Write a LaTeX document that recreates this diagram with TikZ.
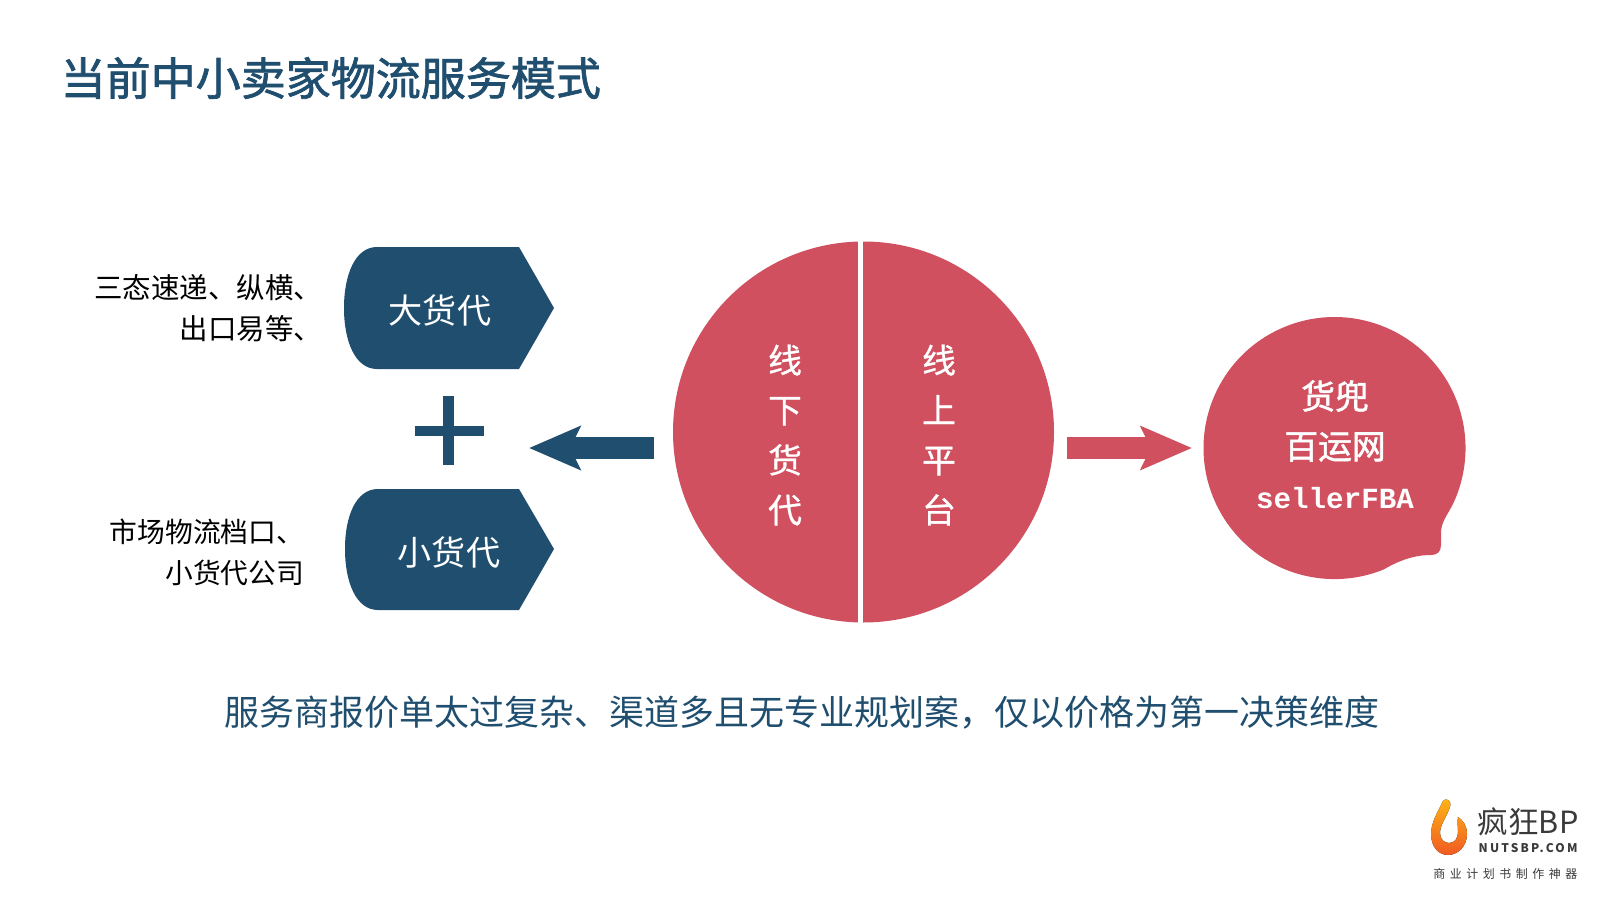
\documentclass[tikz,border=0pt]{standalone}
\usepackage{fontspec}
\usepackage{xcolor}
\usetikzlibrary{arrows.meta}
\setmainfont{Noto Sans CJK SC}
\newfontfamily\latinmono{Liberation Mono}
\newfontfamily\heavycjk[FakeBold=1.6]{Noto Sans CJK SC}
\newfontfamily\firmcjk[FakeBold=0.9]{Noto Sans CJK SC}
\definecolor{navy}{HTML}{1F4E6F}
\definecolor{rosered}{HTML}{D0505F}
\definecolor{logogray}{HTML}{3A3A3A}
\definecolor{flametop}{HTML}{FDB515}
\definecolor{flamebottom}{HTML}{F15A22}
\tikzset{
  bluefill/.style={fill=navy},
  redfill/.style={fill=rosered},
  whitelabel/.style={text=white, inner sep=0pt, align=center},
  sidelabel/.style={text=black, inner sep=0pt, align=right, anchor=east, font=\fontsize{8.1}{11.6}\selectfont},
  blockarrow/.style={line width=6.5pt, -{Stealth[length=14.5pt, width=12.2pt, inset=2.8pt]}}
}
\begin{document}
\begin{tikzpicture}[x=0.01cm, y=-0.01cm]
  \useasboundingbox[fill=white] (0,0) rectangle (1600,900);
  \node[text=navy, anchor=west, inner sep=0pt, font=\heavycjk\fontsize{12.8}{15}\selectfont] (title) at (60,78) {当前中小卖家物流服务模式};
  % left boxes
  \fill[bluefill] (377,247) -- (519,247) -- (554,308) -- (519,369) -- (377,369) .. controls (355,369) and (344,341) .. (344,308) .. controls (344,275) and (355,247) .. (377,247) -- cycle;
  \fill[bluefill] (378,489) -- (519,489) -- (554,549) -- (519,610) -- (378,610) .. controls (356,610) and (345,582) .. (345,549) .. controls (345,516) and (356,489) .. (378,489) -- cycle;
  \node[whitelabel, font=\fontsize{9.7}{12}\selectfont] (bigagent) at (440,310) {大货代};
  \node[whitelabel, font=\fontsize{9.7}{12}\selectfont] (smallagent) at (449,552) {小货代};
  \node[sidelabel] (bignames) at (323,308) {三态速递、纵横、\\出口易等、};
  \node[sidelabel, font=\fontsize{7.9}{11.6}\selectfont] (smallnames) at (305,552) {市场物流档口、\\小货代公司};
  % plus
  \fill[bluefill] (443,396) rectangle (454,465);
  \fill[bluefill] (415,426) rectangle (484,436);
  % main circle
  \fill[redfill] (863.5,432) circle[radius=190.5];
  \draw[white, line width=1.5pt] (860.5,238) -- (860.5,626);
  \node[whitelabel, font=\firmcjk\fontsize{9.6}{14.2}\selectfont] (offline) at (785,435) {线\\下\\货\\代};
  \node[whitelabel, font=\firmcjk\fontsize{9.6}{14.2}\selectfont] (online) at (939,435) {线\\上\\平\\台};
  % right bubble
  \fill[redfill] (1383.6,569.5) arc[start angle=68, end angle=385, radius=131] .. controls (1447,516) and (1441,522) .. (1441,533) -- (1441,545) .. controls (1441,552) and (1437,555) .. (1431,555) .. controls (1420,555) and (1405,557) .. (1383.6,569.5) -- cycle;
  \node[whitelabel, font=\heavycjk\fontsize{9.6}{14.2}\selectfont] (carriers) at (1335,421) {货兜\\百运网};
  \node[whitelabel, font=\latinmono\fontsize{8.3}{10}\selectfont\bfseries] (sellerfba) at (1335,498) {sellerFBA};
  % arrows
  \coordinate (leftstart) at (654,448);
  \coordinate (lefttip) at (529,448);
  \coordinate (rightstart) at (1067,448);
  \coordinate (righttip) at (1192,448);
  \draw[blockarrow, draw=navy] (leftstart) -- (lefttip);
  \draw[blockarrow, draw=rosered] (rightstart) -- (righttip);
  % bottom line
  \node[text=navy, inner sep=0pt, font=\fontsize{9.95}{12}\selectfont] (summary) at (802,713) {服务商报价单太过复杂、渠道多且无专业规划案，仅以价格为第一决策维度};
  % logo
  \fill[top color=flametop, bottom color=flamebottom] (1443,801) .. controls (1445,798) and (1452,799) .. (1450,807) .. controls (1446,818) and (1440,825) .. (1440,833) .. controls (1440,839) and (1444,843) .. (1449,843) .. controls (1455,843) and (1458,838) .. (1458,832) .. controls (1458,826) and (1457,822) .. (1458,817) .. controls (1463,820) and (1467,826) .. (1467,834) .. controls (1467,846) and (1458,855) .. (1448,855) .. controls (1438,855) and (1431,846) .. (1431,834) .. controls (1431,822) and (1438,812) .. (1443,801) -- cycle;
  \node[text=logogray, anchor=west, inner sep=0pt, font=\fontsize{8.7}{10}\selectfont] (logoname) at (1477,822) {疯狂BP};
  \node[text=logogray, anchor=west, inner sep=0pt, font=\fontsize{3.4}{5}\selectfont\bfseries\addfontfeature{LetterSpace=18}] (logosite) at (1478,848) {NUTSBP.COM};
  \node[text=logogray, anchor=east, inner sep=0pt, font=\fontsize{3.4}{5}\selectfont\addfontfeature{LetterSpace=38}] (logoslogan) at (1578,874) {商业计划书制作神器};
\end{tikzpicture}
\end{document}
